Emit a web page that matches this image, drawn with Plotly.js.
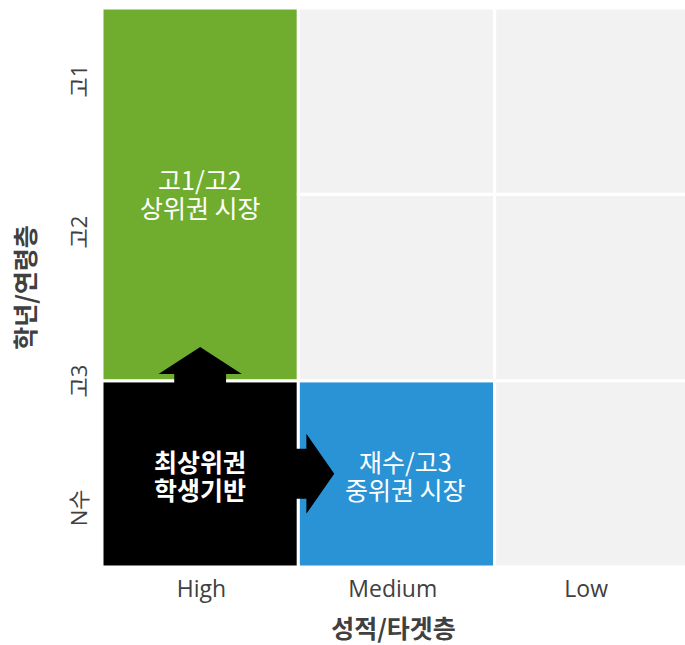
<!DOCTYPE html>
<html>
<head>
<meta charset="utf-8">
<script src="https://cdn.plot.ly/plotly-3.0.1.min.js"></script>
<style>
html, body { margin: 0; padding: 0; background: #ffffff; overflow: hidden; }
#chart { width: 685px; height: 645px; }
</style>
</head>
<body>
<div id="chart"></div>
<script>
// ---- data ----
const columns = ['High', 'Medium', 'Low'];
const rowLabels = ['N수', '고3', '고2', '고1'];
const cellColumn = [0, 0, 1, 1, 1, 2, 2, 2];
const cellRowStart = [0, 1, 0, 1, 2, 0, 1, 2];
const cellRowSpan = [1, 2, 1, 1, 1, 1, 1, 1];
const cellLabels = ['최상위권<br>학생기반', '고1/고2<br>상위권 시장', '재수/고3<br>중위권 시장', '', '', '', '', ''];
const xTitle = '성적/타겟층';
const yTitle = '학년/연령층';

// ---- styles ----
const cellColors = ['#000000', '#70AD2F', '#2A93D5', '#F2F2F2', '#F2F2F2', '#F2F2F2', '#F2F2F2', '#F2F2F2'];
const labelBold = [true, false, false];
const labelShift = [[0, -0.007], [0, 0.005], [0.045, -0.007]];
const xTickPos = [0.506, 1.481, 2.466];
const yTickPos = [0.3, 0.98, 1.78, 2.59];
const KR = "'Noto Sans CJK KR', sans-serif";
const LAT = "'Open Sans', 'Noto Sans CJK KR', sans-serif";
const lineGap = 28;

const W = 685, H = 645;
const mL = 101.5, mT = 8, mB = 77.5, mR = 0;
const colPx = 196.5;
const xMax = (W - mL - mR) / colPx;

const trace = {
  type: 'bar',
  x: cellColumn.map(c => c + 0.5),
  base: cellRowStart,
  y: cellRowSpan,
  width: 1,
  marker: { color: cellColors, line: { color: '#ffffff', width: 3 } },
  hoverinfo: 'skip',
  showlegend: false
};

// arrows from the base cell (index 0)
const c0 = cellColumn[0] + 0.5;
const r0 = cellRowStart[0] + cellRowSpan[0] / 2;
const topEdge = cellRowStart[0] + cellRowSpan[0];
const rightEdge = cellColumn[0] + 1;
const shaftHalfY = 0.132, headHalfY = 0.212;
const shaftHalfX = 0.134, headHalfX = 0.2145;
const upPath = [
  'M', c0 - shaftHalfY, topEdge - 0.05,
  'L', c0 - shaftHalfY, topEdge + 0.036,
  'L', c0 - headHalfY, topEdge + 0.036,
  'L', c0, topEdge + 0.181,
  'L', c0 + headHalfY, topEdge + 0.036,
  'L', c0 + shaftHalfY, topEdge + 0.036,
  'L', c0 + shaftHalfY, topEdge - 0.05, 'Z'
].join(' ');
const rightPath = [
  'M', rightEdge - 0.05, r0 - shaftHalfX,
  'L', rightEdge + 0.041, r0 - shaftHalfX,
  'L', rightEdge + 0.041, r0 - headHalfX,
  'L', rightEdge + 0.183, r0,
  'L', rightEdge + 0.041, r0 + headHalfX,
  'L', rightEdge + 0.041, r0 + shaftHalfX,
  'L', rightEdge - 0.05, r0 + shaftHalfX, 'Z'
].join(' ');

const annotations = [];
cellLabels.forEach((t, i) => {
  if (!t) return;
  const lines = t.split('<br>');
  lines.forEach((ln, k) => {
    annotations.push({
      x: cellColumn[i] + 0.5 + labelShift[i][0],
      y: cellRowStart[i] + cellRowSpan[i] / 2 + labelShift[i][1],
      yshift: ((lines.length - 1) / 2 - k) * lineGap,
      xref: 'x', yref: 'y', text: ln, showarrow: false,
      xanchor: 'center', yanchor: 'middle', align: 'center',
      font: { family: KR, size: 25, color: '#ffffff', weight: labelBold[i] ? 'bold' : 'normal' }
    });
  });
});

const layout = {
  width: W, height: H,
  margin: { l: mL, r: mR, t: mT, b: mB, pad: 0 },
  paper_bgcolor: '#ffffff', plot_bgcolor: '#ffffff',
  barmode: 'overlay',
  showlegend: false,
  xaxis: {
    range: [0, xMax], fixedrange: true,
    showgrid: false, zeroline: false, showline: false, ticks: '',
    tickmode: 'array', tickvals: xTickPos, ticktext: columns,
    tickfont: { family: LAT, size: 23, color: '#404040' },
    ticklabelstandoff: 6,
    title: { text: xTitle, font: { family: KR, size: 25, color: '#404040', weight: 'bold' }, standoff: 20 }
  },
  yaxis: {
    range: [0, 3], fixedrange: true,
    showgrid: false, zeroline: false, showline: false, ticks: '',
    tickmode: 'array', tickvals: yTickPos, ticktext: rowLabels, tickangle: -90,
    tickfont: { family: LAT, size: 22, color: '#404040' },
    ticklabelstandoff: 10,
    title: { text: yTitle, font: { family: KR, size: 25, color: '#404040', weight: 'bold' }, standoff: 19 }
  },
  shapes: [
    { type: 'path', xref: 'x', yref: 'y', path: upPath, fillcolor: '#000000', line: { width: 0 }, layer: 'above' },
    { type: 'path', xref: 'x', yref: 'y', path: rightPath, fillcolor: '#000000', line: { width: 0 }, layer: 'above' }
  ],
  annotations: annotations
};

Plotly.newPlot('chart', [trace], layout, { displayModeBar: false, staticPlot: true });
</script>
</body>
</html>
